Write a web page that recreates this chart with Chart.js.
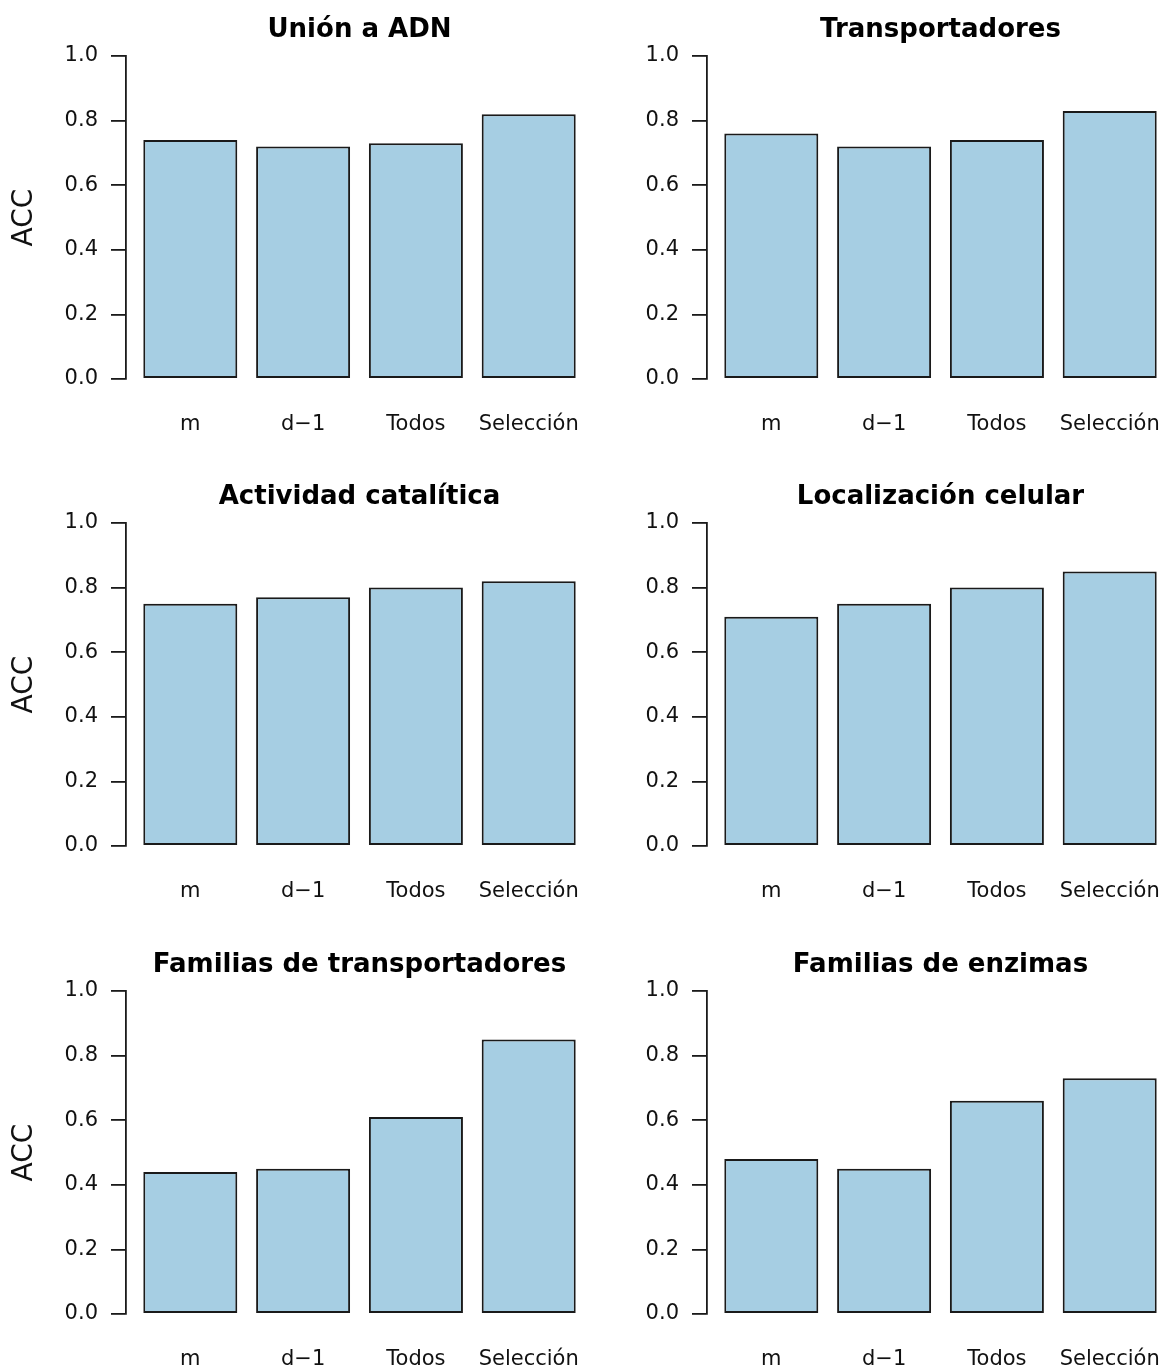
<!DOCTYPE html>
<html>
<head>
<meta charset="utf-8">
<script src="https://cdn.jsdelivr.net/npm/chart.js@4.4.0/dist/chart.umd.min.js"></script>
<style>
	html, body { margin: 0; padding: 0; background: #fff; overflow: hidden; }
	#wrap { position: relative; width: 1165px; height: 1370px; overflow: hidden; background: #fff; }
	#wrap canvas { position: absolute; }
</style>
</head>
<body>
<div id="wrap"></div>
<script>
const categorias = ['m', 'd\u22121', 'Todos', 'Selección'];
const titulos = [
	'Unión a ADN',
	'Transportadores',
	'Actividad catalítica',
	'Localización celular',
	'Familias de transportadores',
	'Familias de enzimas'
];
const unionADN = [0.74, 0.72, 0.73, 0.82];
const transportadores = [0.76, 0.72, 0.74, 0.83];
const actividadCatalitica = [0.75, 0.77, 0.80, 0.82];
const localizacionCelular = [0.71, 0.75, 0.80, 0.85];
const familiasTransportadores = [0.44, 0.45, 0.61, 0.85];
const familiasEnzimas = [0.48, 0.45, 0.66, 0.73];
const yTicks = [0, 0.2, 0.4, 0.6, 0.8, 1.0];
const yLabel = 'ACC';

const series = [unionADN, transportadores, actividadCatalitica, localizacionCelular, familiasTransportadores, familiasEnzimas];

Chart.defaults.font.family = "'DejaVu Sans', sans-serif";
Chart.defaults.color = '#111';

const wrap = document.getElementById('wrap');
const ink = '#1a1a1a';

const panel = (i) => {
	const col = i % 2, row = Math.floor(i / 2);
	const canvas = document.createElement('canvas');
	canvas.width = 600;
	canvas.height = 467;
	canvas.style.left = (col * 581) + 'px';
	canvas.style.top = (row === 0 ? 0 : row === 1 ? 467 : 935) + 'px';
	wrap.appendChild(canvas);

	const data = {
		datasets: [{
			data: series[i].map((v, k) => ({ x: k, y: v })),
			backgroundColor: '#a6cee3',
			borderColor: ink,
			borderWidth: 2,
			borderSkipped: false,
			categoryPercentage: 1,
			barPercentage: 1 / 1.2
		}]
	};

	return new Chart(canvas, {
		type: 'bar',
		data: data,
		options: {
			responsive: false,
			animation: false,
			layout: { padding: { left: 0, right: 7, top: 0, bottom: 0 } },
			plugins: {
				legend: { display: false },
				tooltip: { enabled: false },
				title: {
					display: true,
					text: titulos[i],
					fullSize: false,
					color: '#000',
					font: { size: 26, weight: 'bold' },
					padding: { top: 14.4, bottom: 10.4 }
				}
			},
			scales: {
				x: {
					type: 'linear',
					offset: false,
					min: -0.57,
					max: 3.57,
					grid: { display: false, drawTicks: false },
					border: { display: false },
					afterBuildTicks: (scale) => {
						scale.ticks = categorias.map((c, k) => ({ value: k }));
					},
					afterFit: (scale) => {
						scale.height = 88;
						scale.paddingLeft = 0;
						scale.paddingRight = 0;
					},
					ticks: {
						autoSkip: false,
						maxRotation: 0,
						padding: 33,
						font: { size: 21 },
						callback: (v) => categorias[v]
					}
				},
				y: {
					min: 0,
					max: 1,
					afterBuildTicks: (scale) => {
						scale.ticks = yTicks.map(v => ({ value: v }));
					},
					afterFit: (scale) => { scale.width = 126; },
					grid: {
						drawOnChartArea: false,
						drawTicks: true,
						tickLength: 15,
						color: ink,
						lineWidth: 1.8
					},
					border: { display: true, color: ink, width: 1.8 },
					ticks: {
						padding: 13,
						font: { size: 21 },
						callback: (v) => v.toFixed(1)
					},
					title: {
						display: col === 0,
						text: yLabel,
						color: '#111',
						font: { size: 28 },
						padding: { top: 8, bottom: 0 }
					}
				}
			}
		}
	});
};

titulos.forEach((t, i) => panel(i));
</script>
</body>
</html>
